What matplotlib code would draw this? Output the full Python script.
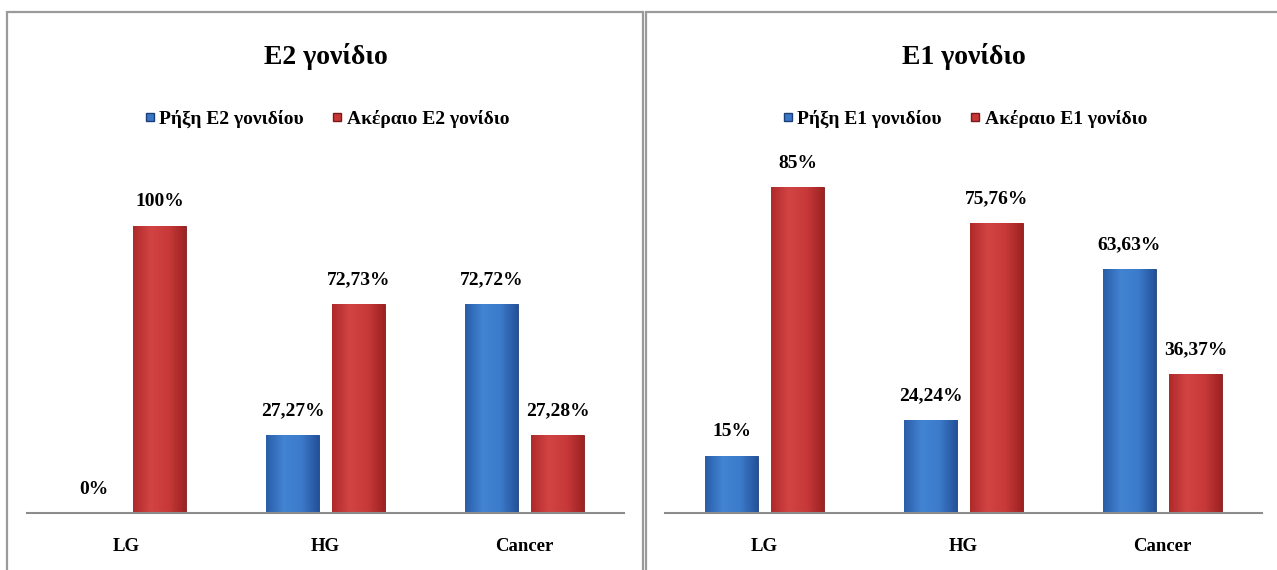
import matplotlib
matplotlib.use("Agg")
import matplotlib.pyplot as plt
import numpy as np
from matplotlib.lines import Line2D
from matplotlib.patches import Rectangle
from matplotlib.colors import LinearSegmentedColormap

categories = ["LG", "HG", "Cancer"]

e2_title = "E2 γονίδιο"
e2_series_names = ["Ρήξη E2 γονιδίου", "Ακέραιο E2 γονίδιο"]
e2_broken = [0.0, 27.27, 72.72]
e2_intact = [100.0, 72.73, 27.28]
e2_broken_labels = ["0%", "27,27%", "72,72%"]
e2_intact_labels = ["100%", "72,73%", "27,28%"]

e1_title = "E1 γονίδιο"
e1_series_names = ["Ρήξη E1 γονιδίου", "Ακέραιο E1 γονίδιο"]
e1_broken = [15.0, 24.24, 63.63]
e1_intact = [85.0, 75.76, 36.37]
e1_broken_labels = ["15%", "24,24%", "63,63%"]
e1_intact_labels = ["85%", "75,76%", "36,37%"]

SERIF = ["Liberation Serif", "DejaVu Serif"]
W, H = 1277, 570
fig = plt.figure(figsize=(W / 100, H / 100), dpi=100)
fig.patch.set_facecolor("white")

BLUE = "#3a76c6"
RED = "#c83636"
blue_cmap = LinearSegmentedColormap.from_list("b", ["#2a5ea8", "#4283d2", "#3c7bcb", "#24529a"])
red_cmap = LinearSegmentedColormap.from_list("r", ["#b02a2a", "#d24444", "#c83a3a", "#9e2222"])

# panel borders
for x0, x1 in [(7, 643), (646, 1290)]:
    fig.patches.append(Rectangle((x0 / W, -0.05), (x1 - x0) / W, (H - 12) / H + 0.05,
                                 transform=fig.transFigure, fill=False,
                                 edgecolor="#9a9a9a", linewidth=1.6))


def shade(ax, bars, cmap):
    grad = np.linspace(0, 1, 64).reshape(1, -1)
    for b in bars:
        x, y, w, h = b.get_x(), b.get_y(), b.get_width(), b.get_height()
        if h <= 0:
            continue
        im = ax.imshow(grad, extent=(x, x + w, y, y + h), cmap=cmap, aspect="auto",
                       interpolation="bicubic", zorder=2.5)
        im.set_clip_path(b)


def panel(left_px, title, names, broken, intact, blabels, ilabels, ymax):
    ax = fig.add_axes([left_px / W, 57 / H, 597 / W, 345 / H])
    x = np.arange(len(categories))
    bw = 0.266
    off = 0.166
    b1 = ax.bar(x - off, broken, bw, color=BLUE, edgecolor="#1d3f78", linewidth=0.6, zorder=2)
    b2 = ax.bar(x + off, intact, bw, color=RED, edgecolor="#7a1a1a", linewidth=0.6, zorder=2)
    shade(ax, b1, blue_cmap)
    shade(ax, b2, red_cmap)
    for bars, labs in [(b1, blabels), (b2, ilabels)]:
        for b, lab in zip(bars, labs):
            ax.annotate(lab, (b.get_x() + b.get_width() / 2, b.get_height()),
                        xytext=(0, 14), textcoords="offset points", ha="center",
                        va="baseline", fontsize=14, fontweight="bold", family=SERIF)
    ax.set_xlim(-0.5, len(categories) - 0.5)
    ax.set_ylim(0, ymax)
    ax.set_xticks(x)
    ax.set_xticklabels(categories, fontsize=13.5, fontweight="bold", family=SERIF)
    ax.tick_params(axis="x", length=0, pad=18)
    ax.set_yticks([])
    for s in ["top", "left", "right"]:
        ax.spines[s].set_visible(False)
    ax.spines["bottom"].set_color("#8c8c8c")
    ax.spines["bottom"].set_linewidth(1.5)
    ax.patch.set_alpha(0)
    cx = (left_px + 597 / 2) / W
    fig.text(cx, 1 - 57 / H, title, ha="center", va="center", fontsize=20,
             fontweight="bold", family=SERIF)
    handles = [Line2D([], [], marker="s", linestyle="none", markersize=6,
                      markerfacecolor=BLUE, markeredgecolor="#1d3f78"),
               Line2D([], [], marker="s", linestyle="none", markersize=6,
                      markerfacecolor=RED, markeredgecolor="#7a1a1a")]
    fig.legend(handles, names, loc="center", bbox_to_anchor=(cx, 1 - 119 / H), ncol=2,
               frameon=False, handletextpad=0.1, columnspacing=1.3, handlelength=0.8,
               prop={"family": SERIF, "weight": "bold", "size": 14})
    return ax


panel(27, e2_title, e2_series_names, e2_broken, e2_intact, e2_broken_labels, e2_intact_labels, 120)
panel(665, e1_title, e1_series_names, e1_broken, e1_intact, e1_broken_labels, e1_intact_labels, 90)

fig.savefig("out.png", dpi=100)
